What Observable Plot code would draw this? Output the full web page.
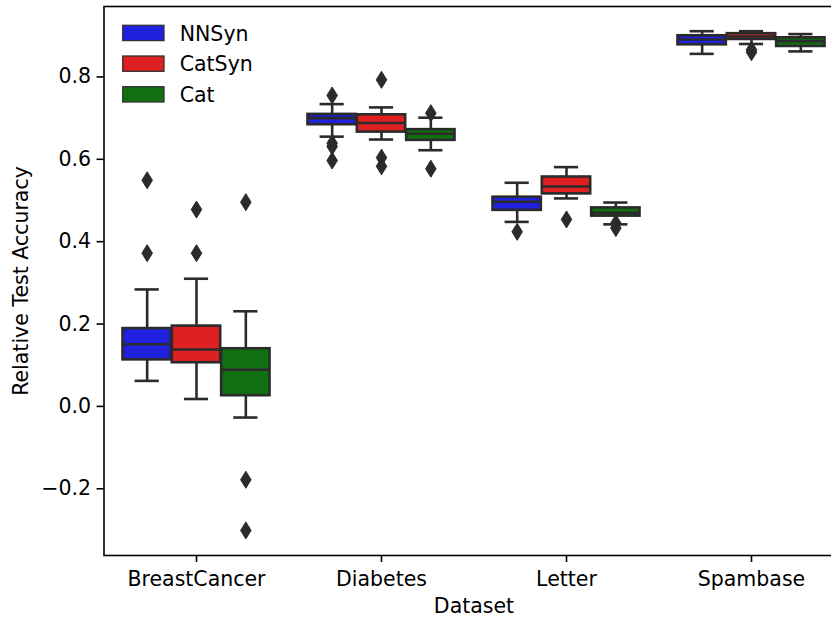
<!DOCTYPE html>
<html>
<head>
<meta charset="utf-8">
<script src="https://cdn.jsdelivr.net/npm/d3@7"></script>
<script src="https://cdn.jsdelivr.net/npm/@observablehq/plot@0.6"></script>
<style>
  html, body { margin: 0; padding: 0; background: #fff; }
  #chart { position: relative; width: 831px; height: 619px; overflow: hidden; font-family: "DejaVu Sans", sans-serif; }
  #chart svg.legend { position: absolute; left: 0; top: 0; pointer-events: none; }
</style>
</head>
<body>
<div id="chart"></div>
<script>
// Datasets on the x axis and the three methods compared in each
const datasets = ["BreastCancer", "Diabetes", "Letter", "Spambase"];
const methods = ["NNSyn", "CatSyn", "Cat"];
const methodColors = ["#2020df", "#df2020", "#107010"];
const yTicks = [-0.2, 0.0, 0.2, 0.4, 0.6, 0.8];

// Box summaries per dataset: [lower whisker, Q1, median, Q3, upper whisker]
const nnsynBoxes = [
  [0.062, 0.113, 0.151, 0.189, 0.284],
  [0.655, 0.684, 0.700, 0.709, 0.734],
  [0.448, 0.476, 0.497, 0.508, 0.543],
  [0.856, 0.878, 0.891, 0.900, 0.911]
];
const catsynBoxes = [
  [0.018, 0.106, 0.138, 0.195, 0.310],
  [0.648, 0.666, 0.688, 0.708, 0.726],
  [0.505, 0.516, 0.534, 0.557, 0.581],
  [0.880, 0.891, 0.898, 0.905, 0.911]
];
const catBoxes = [
  [-0.027, 0.026, 0.089, 0.140, 0.231],
  [0.622, 0.646, 0.662, 0.672, 0.701],
  [0.442, 0.462, 0.470, 0.482, 0.495],
  [0.862, 0.874, 0.887, 0.895, 0.904]
];

// Outlying runs per dataset
const nnsynOutliers = [[0.549, 0.372], [0.755, 0.639, 0.631, 0.597], [0.424], []];
const catsynOutliers = [[0.478, 0.372], [0.793, 0.604, 0.583], [0.454], [0.866, 0.860]];
const catOutliers = [[0.496, -0.178, -0.301], [0.712, 0.577], [0.445, 0.433], []];

const boxSeries = [nnsynBoxes, catsynBoxes, catBoxes];
const outlierSeries = [nnsynOutliers, catsynOutliers, catOutliers];

// Dodged layout inside each dataset slot (seaborn-style)
const groupWidth = 0.8;
const step = groupWidth / methods.length;
const boxHalf = step * 0.98 / 2;
const capHalf = boxHalf / 2;
const lineColor = "#2b2b2b";
const lw = 2.6;
const fontSize = "20.5px";

const boxes = datasets.flatMap((name, i) => methods.map((m, j) => {
  const [lo, q1, med, q3, hi] = boxSeries[j][i];
  return {dataset: name, method: m, pos: i + (j - 1) * step, lo, q1, med, q3, hi, color: methodColors[j]};
}));
const fliers = datasets.flatMap((name, i) => methods.flatMap((m, j) =>
  outlierSeries[j][i].map(v => ({dataset: name, method: m, pos: i + (j - 1) * step, value: v}))
));

// Matplotlib-like thin diamond marker
const thinDiamond = {
  draw(context, size) {
    const r = Math.sqrt(size / Math.PI);
    const w = r * 0.62;
    context.moveTo(0, -r);
    context.lineTo(w, 0);
    context.lineTo(0, r);
    context.lineTo(-w, 0);
    context.closePath();
  }
};

const chart = Plot.plot({
  width: 831,
  height: 619,
  marginLeft: 103.5,
  marginRight: -12.5,
  marginTop: 6,
  marginBottom: 64,
  x: {domain: [-0.5, 3.5], axis: null},
  y: {domain: [-0.362, 0.971], axis: null},
  color: {type: "identity"},
  style: {fontFamily: "DejaVu Sans, sans-serif", fontSize, background: "white", color: "black", overflow: "hidden"},
  marks: [
    Plot.ruleX(boxes, {x: "pos", y1: "q3", y2: "hi", stroke: lineColor, strokeWidth: lw}),
    Plot.ruleX(boxes, {x: "pos", y1: "lo", y2: "q1", stroke: lineColor, strokeWidth: lw}),
    Plot.ruleY(boxes, {y: "hi", x1: d => d.pos - capHalf, x2: d => d.pos + capHalf, stroke: lineColor, strokeWidth: lw}),
    Plot.ruleY(boxes, {y: "lo", x1: d => d.pos - capHalf, x2: d => d.pos + capHalf, stroke: lineColor, strokeWidth: lw}),
    Plot.rect(boxes, {x1: d => d.pos - boxHalf, x2: d => d.pos + boxHalf, y1: "q1", y2: "q3", fill: "color", stroke: lineColor, strokeWidth: lw}),
    Plot.ruleY(boxes, {y: "med", x1: d => d.pos - boxHalf, x2: d => d.pos + boxHalf, stroke: lineColor, strokeWidth: lw}),
    Plot.dot(fliers, {x: "pos", y: "value", symbol: thinDiamond, r: 8.5, fill: lineColor, stroke: lineColor, strokeWidth: 1}),
    Plot.axisX({ticks: [0, 1, 2, 3], tickFormat: i => datasets[i], tickSize: 7, tickPadding: 9, strokeWidth: 1.6, label: null}),
    Plot.axisY({ticks: yTicks, tickFormat: d3.format(".1f"), tickSize: 7, tickPadding: 6, strokeWidth: 1.6, label: null}),
    Plot.frame({stroke: "black", strokeWidth: 1.6}),
    Plot.text(["Relative Test Accuracy"], {frameAnchor: "left", dx: -83, rotate: -90, textAnchor: "middle", lineAnchor: "middle", fill: "black"}),
    Plot.text(["Dataset"], {frameAnchor: "bottom", dy: 51, textAnchor: "middle", lineAnchor: "middle", fill: "black"})
  ]
});

const root = document.getElementById("chart");
root.appendChild(chart);

// Legend in the upper-left corner of the axes
const legend = d3.select(root).append("svg")
  .attr("class", "legend")
  .attr("width", 831)
  .attr("height", 619)
  .style("font-family", "DejaVu Sans, sans-serif")
  .style("font-size", fontSize);
const item = legend.selectAll("g").data(methods).join("g")
  .attr("transform", (d, i) => `translate(122.7, ${25.3 + i * 30.7})`);
item.append("rect")
  .attr("width", 41.3)
  .attr("height", 15.3)
  .attr("fill", (d, i) => methodColors[i])
  .attr("stroke", "#333")
  .attr("stroke-width", 1.3);
item.append("text")
  .attr("x", 57)
  .attr("y", 15.3)
  .attr("fill", "black")
  .text(d => d);
</script>
</body>
</html>
